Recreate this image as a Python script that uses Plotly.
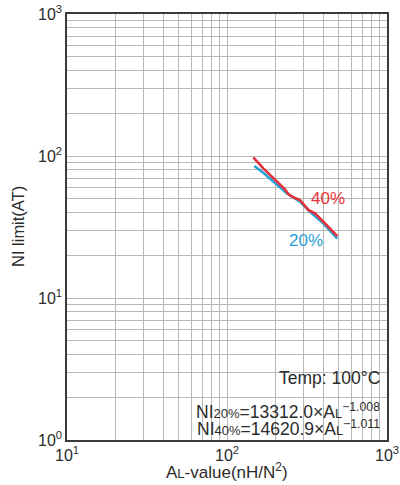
import plotly.graph_objects as go

# Data (AL-value nH/N^2 vs NI limit AT)
al_40 = [146.0, 160.8, 168.6, 230.4, 241.6, 259.7, 285.9, 322.2, 354.8, 399.9, 489.0]
ni_40 = [97.9, 86.4, 81.9, 58.3, 54.0, 51.2, 49.0, 41.7, 39.5, 34.5, 27.3]
al_20 = [148.1, 168.6, 236.1, 285.9, 330.2, 399.9, 489.0]
ni_20 = [85.1, 76.3, 54.6, 47.7, 40.5, 33.6, 26.2]

x_decades = [10, 100, 1000]
x_decade_labels = ["10<sup>1</sup>", "10<sup>2</sup>", "10<sup>3</sup>"]
y_decades = [1, 10, 100, 1000]
y_decade_labels = ["10<sup>0</sup>", "10<sup>1</sup>", "10<sup>2</sup>", "10<sup>3</sup>"]

RED = "#e5323a"
BLUE = "#2a9fd9"
TXT = "#2b2b2b"
FONT = "Liberation Sans, Arial, sans-serif"


def log_ticks(decades, labels):
    vals, texts = [], []
    for i, d in enumerate(decades):
        vals.append(d)
        texts.append(labels[i])
        if i < len(decades) - 1:
            for m in range(2, 10):
                vals.append(d * m)
                texts.append("")
    return vals, texts


xv, xt = log_ticks(x_decades, x_decade_labels)
yv, yt = log_ticks(y_decades, y_decade_labels)

fig = go.Figure()
fig.add_trace(go.Scatter(x=al_20, y=ni_20, mode="lines",
                         line=dict(color=BLUE, width=2.6), showlegend=False))
fig.add_trace(go.Scatter(x=al_40, y=ni_40, mode="lines",
                         line=dict(color=RED, width=2.6), showlegend=False))

axis_common = dict(
    type="log", showgrid=True, gridcolor="#b8b8b8", gridwidth=1,
    showline=True, linecolor="#3a3a3a", linewidth=1.5, mirror=True,
    ticks="", zeroline=False, automargin=False,
    tickfont=dict(family=FONT, size=16, color=TXT),
)

fig.update_xaxes(range=[1, 3], tickvals=xv, ticktext=xt, **axis_common)
fig.update_yaxes(range=[0, 3], tickvals=yv, ticktext=yt, **axis_common)

# white boxes behind the bottom-right texts (above gridlines)
fig.add_shape(type="rect", xref="paper", yref="paper", x0=0.66, x1=0.995,
              y0=0.102, y1=0.168, fillcolor="white", line=dict(width=0),
              layer="between")
fig.add_shape(type="rect", xref="paper", yref="paper", x0=0.375, x1=0.995,
              y0=0.008, y1=0.098, fillcolor="white", line=dict(width=0),
              layer="between")

sm = "<span style='font-size:13px'>"
annotations = [
    dict(text="NI limit(AT)", xref="paper", yref="paper", x=-0.153, y=0.5,
         xanchor="center", yanchor="middle",
         textangle=-90, showarrow=False, font=dict(family=FONT, size=16.5, color=TXT)),
    dict(text="A" + sm + "L</span>-value(nH/N<sup>2</sup>)", xref="paper", yref="paper",
         x=0.5, y=-0.072, xanchor="center", yanchor="middle",
         showarrow=False, font=dict(family=FONT, size=17, color=TXT)),
    dict(text="40%", x=2.631, y=1.70, xref="x", yref="y", showarrow=False,
         font=dict(family=FONT, size=17, color=RED)),
    dict(text="20%", x=2.494, y=1.408, xref="x", yref="y", showarrow=False,
         font=dict(family=FONT, size=17, color=BLUE)),
    dict(text="Temp: 100°C", xref="paper", yref="paper", x=0.983, y=0.1455,
         xanchor="right", yanchor="middle", showarrow=False,
         font=dict(family=FONT, size=17.5, color=TXT)),
    dict(text="NI" + sm + "20%</span>=13312.0×A" + sm + "L</span><sup>−1.008</sup>",
         xref="paper", yref="paper", x=0.983, y=0.068, xanchor="right", yanchor="middle",
         showarrow=False, font=dict(family=FONT, size=17.5, color=TXT)),
    dict(text="NI" + sm + "40%</span>=14620.9×A" + sm + "L</span><sup>−1.011</sup>",
         xref="paper", yref="paper", x=0.983, y=0.028, xanchor="right", yanchor="middle",
         showarrow=False, font=dict(family=FONT, size=17.5, color=TXT)),
]

fig.update_layout(
    width=400, height=485,
    margin=dict(l=67, r=13, t=14, b=45),
    paper_bgcolor="white", plot_bgcolor="white",
    annotations=annotations,
    font=dict(family=FONT, color=TXT),
)

fig.write_html("out.html", config={"displayModeBar": False},
               post_script="document.body.style.margin='0';document.body.style.overflow='hidden';")
